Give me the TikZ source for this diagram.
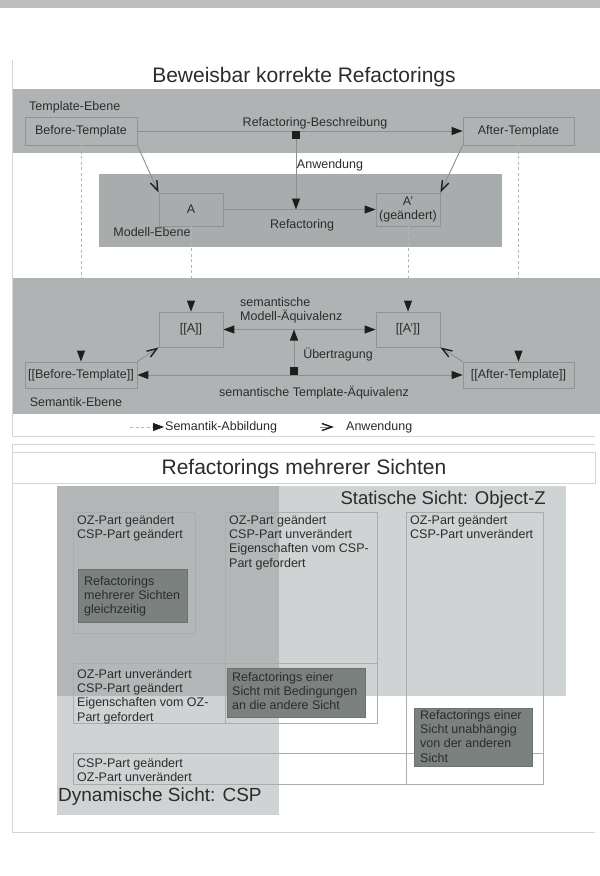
\documentclass[tikz,border=0pt]{standalone}
\usepackage{fontspec}
\setmainfont{Liberation Sans}
\usetikzlibrary{arrows.meta}
\definecolor{topbar}{HTML}{BCBDBE}
\definecolor{bandc}{HTML}{B0B3B4}
\definecolor{modband}{HTML}{A8ACAC}
\definecolor{framec}{HTML}{D4D5D5}
\definecolor{boxc}{HTML}{8F9494}
\definecolor{linec}{HTML}{8C9090}
\definecolor{dashc}{HTML}{B4B7B7}
\definecolor{tipc}{HTML}{1E1E1E}
\definecolor{txtc}{HTML}{2C2C2C}
\definecolor{lightc}{HTML}{D0D3D3}
\definecolor{overc}{HTML}{B4B7B8}
\definecolor{iboxc}{HTML}{A9ADAD}
\definecolor{darkc}{HTML}{7A817F}
\definecolor{darkb}{HTML}{6C7270}
\begin{document}
\begin{tikzpicture}[x=1pt,y=-1pt,
  txt/.style={font=\fontsize{12.5}{14.3}\selectfont, text=txtc, inner sep=0pt},
  box/.style={txt, draw=boxc, line width=0.8pt, align=center},
  ibox/.style={draw=iboxc, line width=0.8pt, inner sep=0pt, anchor=north west},
  dbox/.style={draw=darkb, fill=darkc, line width=0.8pt, inner sep=0pt, anchor=north west},
  multi/.style={txt, align=left, anchor=north west},
  conn/.style={draw=linec, line width=0.9pt},
  ftip/.style={-{Triangle[length=11pt,width=8pt,color=tipc]}},
  dtip/.style={{Triangle[length=11pt,width=8pt,color=tipc]}-{Triangle[length=11pt,width=8pt,color=tipc]}},
  sem/.style={draw=dashc, line width=0.8pt, dash pattern=on 3pt off 2.5pt, ftip},
  anw/.style={draw=linec, line width=0.9pt, -{Straight Barb[length=10pt,width=7pt,line width=1.4pt,color=tipc]}},
  sqr/.style={fill=tipc, minimum size=8pt, inner sep=0pt},
  framel/.style={draw=framec, line width=1pt}
]
\useasboundingbox (0,0) rectangle (600,876);
\fill[white] (0,0) rectangle (600,876);
\fill[topbar] (0,0) rectangle (600,8);

% ---------- section 1 ----------
\draw[framel] (12.5,60) -- (12.5,436) -- (595,436);
\fill[bandc] (13,89) rectangle (600,153);
\fill[modband] (99,174) rectangle (502,247);
\fill[bandc] (13,278) rectangle (600,414);

\node[txt, font=\fontsize{21}{24}\selectfont] (t1) at (304,77) {Beweisbar korrekte Refactorings};

\node[box, minimum width=112pt, minimum height=28pt] (bt) at (81,131) {Before-Template};
\node[box, minimum width=111pt, minimum height=28pt] (at) at (518.5,131) {After-Template};
\node[box, minimum width=64pt, minimum height=33pt] (a) at (191,209.5) {A};
\node[box, minimum width=64pt, minimum height=33pt] (ap) at (408,209.5) {A'\\(geändert)};
\node[box, minimum width=64pt, minimum height=35pt] (sa) at (191,329.5) {[[A]]};
\node[box, minimum width=64pt, minimum height=35pt] (sap) at (408,329.5) {[[A']]};
\node[box, minimum width=112pt, minimum height=26pt] (sbt) at (81,375) {[[Before-Template]]};
\node[box, minimum width=111pt, minimum height=26pt] (sat) at (518.5,375) {[[After-Template]]};

\draw[conn, ftip] (bt.east) -- (at.west);
\draw[conn, ftip] (a.east) -- (ap.west);
\draw[conn, dtip] (sa.east) -- (sap.west);
\draw[conn, dtip] (sbt.east) -- (sat.west);

\node[sqr] (sq1) at (296,135) {};
\node[sqr] (sq2) at (294,371) {};
\draw[conn, ftip] (sq1.south) -- (sq1.south |- a.east);
\draw[conn, ftip] (sq2.north) -- (sq2.north |- sa.east);

\draw[sem] (bt.south) -- (sbt.north);
\draw[sem] (a.south) -- (sa.north);
\draw[sem] (ap.south) -- (sap.north);
\draw[sem] (at.south) -- (sat.north);

\draw[anw] (bt.south east) -- (a.north west);
\draw[anw] (at.south west) -- (ap.north east);
\draw[anw] (sbt.north east) -- (sa.south west);
\draw[anw] (sat.north west) -- (sap.south east);

\node[txt, anchor=west] (lte) at (29,107) {Template-Ebene};
\node[txt] (lrb) at (315,123) {Refactoring-Beschreibung};
\node[txt] (lanw) at (330,165) {Anwendung};
\node[txt] (lref) at (302,225) {Refactoring};
\node[txt] (lme) at (152,232) {Modell-Ebene};
\node[txt, align=left, anchor=west] (lsma) at (240,310) {semantische\\Modell-Äquivalenz};
\node[txt] (lub) at (338,355) {Übertragung};
\node[txt] (lsta) at (314,393) {semantische Template-Äquivalenz};
\node[txt] (lse) at (76,402) {Semantik-Ebene};

\coordinate (lg1a) at (130,427);
\coordinate (lg1b) at (164,427);
\draw[sem] (lg1a) -- (lg1b);
\node[txt, anchor=west] (lg1t) at (165,427) {Semantik-Abbildung};
\coordinate (lg2a) at (320,427);
\coordinate (lg2b) at (334,427);
\draw[anw] (lg2a) -- (lg2b);
\node[txt, anchor=west] (lg2t) at (346,427) {Anwendung};

% ---------- section 2 ----------
\draw[framel] (595,444) -- (12.5,444) -- (12.5,832) -- (595,832);
\draw[framel] (12.5,452) rectangle (595,483);
\node[txt, font=\fontsize{21}{24}\selectfont] (t2) at (304,469) {Refactorings mehrerer Sichten};

\fill[lightc] (57,486) rectangle (566,696);
\fill[lightc] (57,696) rectangle (279,815);
\fill[overc] (57,486) rectangle (279,696);

\node[txt, font=\fontsize{18.5}{22}\selectfont, anchor=east] (ss) at (546,500) {Statische Sicht: Object-Z};
\node[txt, font=\fontsize{19}{22}\selectfont, anchor=west] (ds) at (58,797) {Dynamische Sicht: CSP};

\node[ibox, minimum width=122pt, minimum height=121pt] (b1) at (73,512) {};
\node[ibox, minimum width=152pt, minimum height=211pt] (b2) at (225,512) {};
\node[ibox, minimum width=137pt, minimum height=272pt] (b3) at (406,512) {};
\node[ibox, minimum width=304pt, minimum height=60pt] (b4) at (73,663) {};
\node[ibox, minimum width=470pt, minimum height=31pt] (b5) at (73,753) {};
\node[dbox, minimum width=109pt, minimum height=53pt] (d1) at (78,569) {};
\node[dbox, minimum width=138pt, minimum height=49pt] (d2) at (227,668) {};
\node[dbox, minimum width=118pt, minimum height=58pt] (d3) at (414,708) {};

\node[multi] (b1t) at (77,515) {OZ-Part geändert\\CSP-Part geändert};
\node[multi] (b2t) at (229,515) {OZ-Part geändert\\CSP-Part unverändert\\Eigenschaften vom CSP-\\Part gefordert};
\node[multi] (b3t) at (410,515) {OZ-Part geändert\\CSP-Part unverändert};
\node[multi] (d1t) at (84,576) {Refactorings\\mehrerer Sichten\\gleichzeitig};
\node[multi] (b4t) at (77,669) {OZ-Part unverändert\\CSP-Part geändert\\Eigenschaften vom OZ-\\Part gefordert};
\node[multi] (d2t) at (232,672) {Refactorings einer\\Sicht mit Bedingungen\\an die andere Sicht};
\node[multi] (d3t) at (420,710) {Refactorings einer\\Sicht unabhängig\\von der anderen\\Sicht};
\node[multi] (b5t) at (77,758) {CSP-Part geändert\\OZ-Part unverändert};
\end{tikzpicture}
\end{document}
